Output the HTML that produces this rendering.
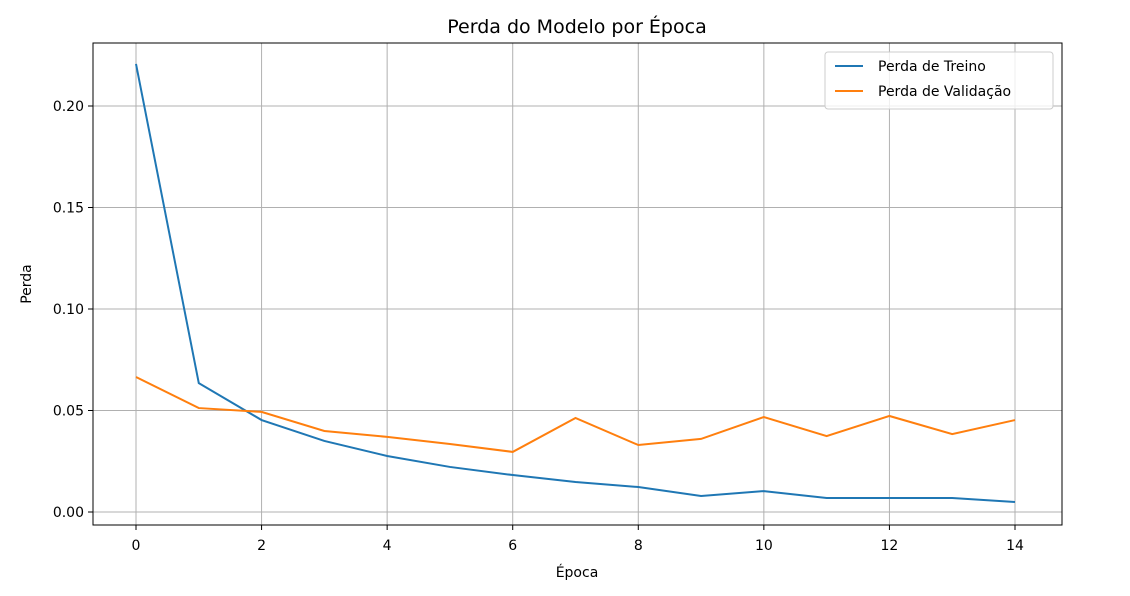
<!DOCTYPE html>
<html><head><meta charset="utf-8"><style>
body{margin:0;background:#fff;}
svg text{font-family:"DejaVu Sans","Liberation Sans",sans-serif;fill:#000;}
</style></head><body>
<svg id="chart" width="1130" height="591">
<text x="577" y="33" font-size="19" text-anchor="middle">Perda do Modelo por Época</text>
<g id="grid"></g><g id="axes"></g><g id="series"></g>
<text x="577" y="577" font-size="14" text-anchor="middle">Época</text>
<text x="31" y="284" font-size="14" text-anchor="middle" transform="rotate(-90 31 284)">Perda</text>
<g>
<rect x="825" y="52" width="228" height="57" rx="3" fill="#fff" fill-opacity="0.8" stroke="#ccc"/>
<line x1="835" y1="66" x2="863" y2="66" stroke="#1f77b4" stroke-width="2"/>
<text x="878" y="71" font-size="14">Perda de Treino</text>
<line x1="835" y1="91" x2="863" y2="91" stroke="#ff7f0e" stroke-width="2"/>
<text x="878" y="96" font-size="14">Perda de Validação</text>
</g>
</svg>
<script>
const epochs=[0,1,2,3,4,5,6,7,8,9,10,11,12,13,14];
const trainLoss=[0.2207,0.0635,0.0453,0.035,0.0276,0.0222,0.0182,0.0148,0.0123,0.0079,0.0103,0.0069,0.0069,0.0069,0.0049];
const valLoss=[0.0665,0.0512,0.0493,0.0399,0.037,0.0335,0.0296,0.0463,0.033,0.036,0.0468,0.0374,0.0473,0.0384,0.0453];
const xTicks=[0,2,4,6,8,10,12,14];
const yTicks=[0,0.05,0.10,0.15,0.20];
const L=93,R=1062,T=43,B=525;
const xs=v=>136+(v/14)*(1015-136);
const ys=v=>512-v*2030;
const NS="http://www.w3.org/2000/svg";
function mk(tag,attrs,parent){const e=document.createElementNS(NS,tag);for(const k in attrs)e.setAttribute(k,attrs[k]);document.getElementById(parent).appendChild(e);return e;}
xTicks.forEach(t=>{
 const g=mk('line',{x1:xs(t),x2:xs(t),y1:T,y2:B,stroke:'#b0b0b0','stroke-width':1},'grid');
 
 
 mk('line',{x1:xs(t),x2:xs(t),y1:B,y2:B+5,stroke:'#000'},'axes');
 const tx=mk('text',{x:xs(t),y:B+25,'font-size':14,'text-anchor':'middle'},'axes');tx.textContent=t;
 
 
});
yTicks.forEach(t=>{
 const g=mk('line',{x1:L,x2:R,y1:ys(t),y2:ys(t),stroke:'#b0b0b0','stroke-width':1},'grid');
 
 
 mk('line',{x1:L-5,x2:L,y1:ys(t),y2:ys(t),stroke:'#000'},'axes');
 const tx=mk('text',{x:L-9,y:ys(t)+5,'font-size':14,'text-anchor':'end'},'axes');tx.textContent=t.toFixed(2);
 
 
});
const fr=mk('rect',{x:L,y:T,width:R-L,height:B-T,fill:'none',stroke:'#000','stroke-width':1},'axes');


function line(vals,color,name){
 const p=mk('polyline',{points:vals.map((v,i)=>xs(epochs[i])+','+ys(v)).join(' '),fill:'none',stroke:color,'stroke-width':2},'series');
 
 
}
line(trainLoss,'#1f77b4','train-loss-line');
line(valLoss,'#ff7f0e','val-loss-line');
</script>
</body></html>
